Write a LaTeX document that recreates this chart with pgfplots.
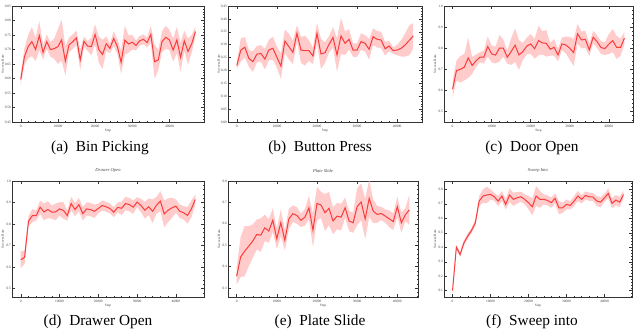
\documentclass[border=0pt]{standalone}
\usepackage{pgfplots}
\pgfplotsset{compat=1.18}
\usepackage{pgfplotstable}
\usepgfplotslibrary{fillbetween}
\usepackage{fontspec}
\setmainfont{Liberation Serif}

\definecolor{linecol}{RGB}{250,60,60}
\definecolor{bandcol}{RGB}{255,203,203}

% ---- data: x = step, m = mean success rate, s = spread ----
\pgfplotstableread{
x m s
0 0.597 0.017
1000 0.675 0.030
2000 0.710 0.040
3000 0.727 0.050
4000 0.700 0.040
5000 0.748 0.050
6000 0.690 0.025
7000 0.727 0.025
8000 0.700 0.025
9000 0.703 0.035
10000 0.710 0.060
11000 0.733 0.070
12000 0.660 0.050
13000 0.716 0.025
14000 0.727 0.025
15000 0.740 0.025
16000 0.664 0.035
17000 0.728 0.017
18000 0.712 0.017
19000 0.710 0.030
20000 0.752 0.035
21000 0.700 0.045
22000 0.683 0.050
23000 0.720 0.025
24000 0.704 0.017
25000 0.738 0.025
26000 0.710 0.025
27000 0.656 0.040
28000 0.732 0.050
29000 0.719 0.030
30000 0.725 0.025
31000 0.714 0.017
32000 0.730 0.017
33000 0.735 0.017
34000 0.724 0.017
35000 0.752 0.030
36000 0.658 0.058
37000 0.664 0.035
38000 0.727 0.035
39000 0.742 0.040
40000 0.733 0.035
41000 0.698 0.040
42000 0.733 0.045
43000 0.673 0.050
44000 0.730 0.035
45000 0.693 0.045
46000 0.720 0.030
47000 0.762 0.017
}\tA

\pgfplotstableread{
x m s
0 0.219 0.013
1000 0.279 0.045
2000 0.290 0.040
3000 0.247 0.032
4000 0.234 0.040
5000 0.263 0.032
6000 0.266 0.032
7000 0.244 0.040
8000 0.279 0.040
9000 0.286 0.045
10000 0.251 0.040
11000 0.217 0.050
12000 0.314 0.045
13000 0.292 0.050
14000 0.270 0.045
15000 0.344 0.032
16000 0.279 0.050
17000 0.277 0.058
18000 0.277 0.040
19000 0.256 0.032
20000 0.344 0.040
21000 0.264 0.058
22000 0.269 0.040
23000 0.301 0.032
24000 0.328 0.040
25000 0.260 0.065
26000 0.334 0.070
27000 0.305 0.045
28000 0.321 0.040
29000 0.279 0.026
30000 0.279 0.026
31000 0.312 0.032
32000 0.305 0.032
33000 0.282 0.040
34000 0.331 0.032
35000 0.321 0.032
36000 0.318 0.032
37000 0.284 0.026
38000 0.295 0.020
39000 0.277 0.013
40000 0.279 0.020
41000 0.286 0.032
42000 0.299 0.045
43000 0.316 0.058
44000 0.334 0.050
}\tB

\pgfplotstableread{
x m s
0 0.606 0.040
1000 0.694 0.047
2000 0.700 0.063
3000 0.710 0.063
4000 0.754 0.095
5000 0.718 0.040
6000 0.740 0.030
7000 0.757 0.024
8000 0.757 0.030
9000 0.808 0.047
10000 0.773 0.040
11000 0.767 0.040
12000 0.800 0.063
13000 0.800 0.040
14000 0.757 0.030
15000 0.784 0.063
16000 0.814 0.080
17000 0.768 0.070
18000 0.784 0.040
19000 0.810 0.040
20000 0.820 0.047
21000 0.797 0.047
22000 0.836 0.070
23000 0.825 0.055
24000 0.823 0.063
25000 0.795 0.030
26000 0.804 0.040
27000 0.768 0.030
28000 0.820 0.030
29000 0.815 0.040
30000 0.800 0.055
31000 0.779 0.063
32000 0.868 0.047
33000 0.839 0.040
34000 0.842 0.040
35000 0.792 0.030
36000 0.852 0.030
37000 0.831 0.030
38000 0.803 0.030
39000 0.798 0.030
40000 0.819 0.047
41000 0.836 0.055
42000 0.804 0.055
43000 0.804 0.040
44000 0.847 0.030
}\tC

\pgfplotstableread{
x m s
0 0.633 0.039
1000 0.645 0.031
2000 0.813 0.023
3000 0.839 0.031
4000 0.839 0.023
5000 0.878 0.031
6000 0.856 0.039
7000 0.867 0.039
8000 0.855 0.031
9000 0.856 0.039
10000 0.870 0.031
11000 0.863 0.039
12000 0.839 0.023
13000 0.895 0.031
14000 0.867 0.031
15000 0.890 0.031
16000 0.848 0.031
17000 0.870 0.031
18000 0.867 0.031
19000 0.859 0.031
20000 0.872 0.023
21000 0.886 0.023
22000 0.880 0.023
23000 0.872 0.023
24000 0.855 0.023
25000 0.877 0.023
26000 0.873 0.031
27000 0.895 0.031
28000 0.890 0.031
29000 0.878 0.031
30000 0.902 0.023
31000 0.886 0.031
32000 0.864 0.039
33000 0.880 0.039
34000 0.859 0.055
35000 0.887 0.039
36000 0.906 0.047
37000 0.847 0.062
38000 0.864 0.055
39000 0.875 0.047
40000 0.883 0.031
41000 0.859 0.031
42000 0.852 0.031
43000 0.840 0.039
44000 0.870 0.039
45000 0.914 0.023
}\tD

\pgfplotstableread{
x m s
0 0.355 0.039
1000 0.445 0.094
2000 0.472 0.117
3000 0.495 0.094
4000 0.519 0.078
5000 0.550 0.070
6000 0.547 0.078
7000 0.581 0.062
8000 0.566 0.055
9000 0.617 0.055
10000 0.530 0.047
11000 0.605 0.062
12000 0.523 0.047
13000 0.623 0.047
14000 0.647 0.039
15000 0.639 0.039
16000 0.616 0.031
17000 0.631 0.039
18000 0.675 0.055
19000 0.570 0.078
20000 0.695 0.078
21000 0.688 0.062
22000 0.652 0.086
23000 0.672 0.078
24000 0.613 0.062
25000 0.636 0.062
26000 0.631 0.062
27000 0.675 0.047
28000 0.613 0.047
29000 0.605 0.047
30000 0.680 0.086
31000 0.702 0.086
32000 0.623 0.094
33000 0.719 0.086
34000 0.659 0.055
35000 0.644 0.039
36000 0.648 0.031
37000 0.636 0.031
38000 0.623 0.039
39000 0.610 0.039
40000 0.680 0.047
41000 0.605 0.047
42000 0.642 0.031
43000 0.665 0.070
}\tE

\pgfplotstableread{
x m s
0 0.100 0.012
1000 0.400 0.018
2000 0.350 0.018
3000 0.430 0.018
4000 0.477 0.018
5000 0.516 0.018
6000 0.569 0.023
7000 0.719 0.035
8000 0.754 0.046
9000 0.761 0.058
10000 0.765 0.035
11000 0.749 0.028
12000 0.719 0.035
13000 0.754 0.035
14000 0.696 0.035
15000 0.761 0.046
16000 0.731 0.046
17000 0.742 0.040
18000 0.749 0.035
19000 0.731 0.035
20000 0.708 0.046
21000 0.680 0.058
22000 0.754 0.069
23000 0.731 0.058
24000 0.731 0.035
25000 0.724 0.035
26000 0.708 0.035
27000 0.738 0.035
28000 0.673 0.046
29000 0.673 0.035
30000 0.696 0.035
31000 0.689 0.028
32000 0.719 0.035
33000 0.754 0.035
34000 0.731 0.028
35000 0.758 0.028
36000 0.749 0.028
37000 0.747 0.028
38000 0.719 0.035
39000 0.712 0.035
40000 0.742 0.028
41000 0.772 0.035
42000 0.703 0.035
43000 0.726 0.035
44000 0.712 0.035
45000 0.765 0.028
}\tF

\newcommand{\band}[1]{%
  \addplot[name path=hi, draw=none] table[x=x, y expr=\thisrow{m}+\thisrow{s}] {#1};
  \addplot[name path=lo, draw=none] table[x=x, y expr=\thisrow{m}-\thisrow{s}] {#1};
  \addplot[fill=bandcol, draw=none] fill between[of=hi and lo];
  \addplot[linecol, line width=0.75pt] table[x=x, y=m] {#1};
}

\newcommand{\wee}{\fontsize{2.6}{3}\selectfont}

\pgfplotsset{
  panel/.style={
    scale only axis,
    height=87pt,
    anchor=south west,
    /pgf/number format/assume math mode=true,
    tick label style={font=\wee, text=black!75},
    label style={font=\wee, text=black!75},
    title style={font=\fontsize{3.4}{3.8}\selectfont\itshape, text=black!75,
      at={(0.5,1)}, anchor=south, inner sep=0.3pt, yshift=0pt},
    xlabel={Step},
    ylabel={Success Rate},
    xlabel style={yshift=5pt},
    ylabel style={at={(axis description cs:-0.048,0.5)}, anchor=center, inner sep=0pt},
    xtick={0,10000,20000,30000,40000},
    scaled x ticks=false,
    xticklabel style={/pgf/number format/set thousands separator={}},
    minor x tick num=4,
    minor y tick num=4,
    tick align=inside,
    major tick length=2pt,
    minor tick length=1pt,
    every tick/.style={black!80, line width=0.3pt},
    axis line style={line width=0.4pt, black!80},
    xticklabel shift=-1.5pt,
    yticklabel shift=0.3pt,
    yticklabel style={inner sep=0.3pt, /pgf/number format/fixed, /pgf/number format/fixed zerofill, /pgf/number format/precision=1},
  },
  two/.style={yticklabel style={/pgf/number format/precision=2}},
}

\begin{document}
\begin{tikzpicture}[x=0.75pt, y=0.75pt]

\begin{axis}[panel, two, at={(9pt,157.5pt)}, width=144pt, title={Bin Picking},
  xmin=-2350, xmax=49300, ymin=0.45, ymax=0.85, ytick distance=0.05]
\band{\tA}
\end{axis}

\begin{axis}[panel, two, at={(171pt,157.5pt)}, width=145.5pt, title={Button Press},
  xmin=-2200, xmax=46200, ymin=0, ymax=0.45, ytick distance=0.05]
\band{\tB}
\end{axis}

\begin{axis}[panel, at={(333pt,157.5pt)}, width=141.75pt, title={Door Open},
  xmin=-2200, xmax=46200, ymin=0.45, ymax=1.0, ytick distance=0.1]
\band{\tC}
\end{axis}

\begin{axis}[panel, at={(9pt,26.25pt)}, width=144pt, title={Drawer Open},
  xmin=-2250, xmax=47250, ymin=0.46, ymax=1.0, ytick distance=0.1]
\band{\tD}
\end{axis}

\begin{axis}[panel, at={(171pt,26.25pt)}, width=142.5pt, title={Plate Slide},
  xmin=-2150, xmax=45150, ymin=0.258, ymax=0.8, ytick distance=0.1]
\band{\tE}
\end{axis}

\begin{axis}[panel, at={(333pt,26.25pt)}, width=141pt, title={Sweep Into},
  xmin=-2250, xmax=47250, ymin=0.056, ymax=0.858, ytick distance=0.1]
\band{\tF}
\end{axis}

\begin{scope}[every node/.style={font=\fontsize{11.5}{13}\selectfont, anchor=base, inner sep=0pt}]
\node at (100,180) {(a)\enspace Bin Picking};
\node at (320,180) {(b)\enspace Button Press};
\node at (532,180) {(c)\enspace Door Open};
\node at (98,6) {(d)\enspace Drawer Open};
\node at (320,6) {(e)\enspace Plate Slide};
\node at (532,6) {(f)\enspace Sweep into};
\end{scope}

% fix the page to the reference's 640 x 332 frame
\pgfresetboundingbox
\path[use as bounding box] (0,0) rectangle (640,332);
\end{tikzpicture}
\end{document}
